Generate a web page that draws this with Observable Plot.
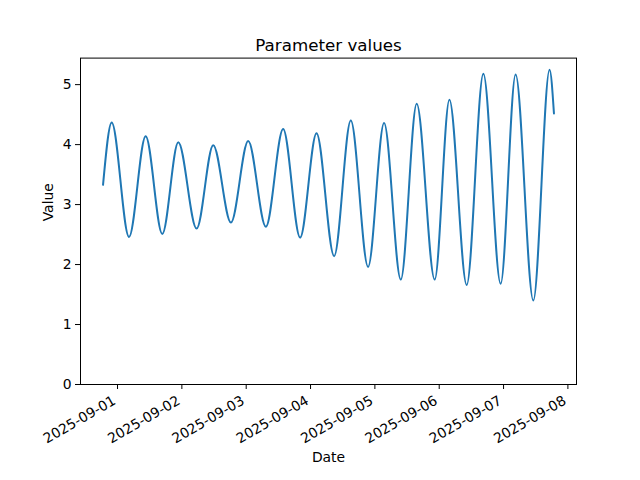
<!DOCTYPE html>
<html>
<head>
<meta charset="utf-8">
<script src="https://cdn.jsdelivr.net/npm/d3@7"></script>
<script src="https://cdn.jsdelivr.net/npm/@observablehq/plot@0.6"></script>
<style>
  html, body { margin: 0; padding: 0; background: #fff; }
</style>
</head>
<body>
<div id="chart"></div>
<script>
const chartTitle = "Parameter values";
const xLabel = "Date";
const yLabel = "Value";

const times = [
  "2025-08-31T18:36Z", "2025-08-31T21:50Z",
  "2025-09-01T04:17Z", "2025-09-01T10:30Z", "2025-09-01T16:42Z", "2025-09-01T22:40Z",
  "2025-09-02T05:30Z", "2025-09-02T11:42Z", "2025-09-02T18:18Z",
  "2025-09-03T00:45Z", "2025-09-03T07:20Z", "2025-09-03T13:47Z", "2025-09-03T20:07Z",
  "2025-09-04T02:14Z", "2025-09-04T08:48Z", "2025-09-04T15:01Z", "2025-09-04T21:28Z",
  "2025-09-05T03:26Z", "2025-09-05T09:40Z", "2025-09-05T15:36Z", "2025-09-05T22:19Z",
  "2025-09-06T03:48Z", "2025-09-06T10:15Z", "2025-09-06T16:28Z", "2025-09-06T22:55Z",
  "2025-09-07T04:30Z", "2025-09-07T11:06Z", "2025-09-07T17:10Z", "2025-09-07T18:48Z"
];
const values = [
  3.33, 4.37,
  2.46, 4.14, 2.51, 4.04,
  2.60, 3.99, 2.70,
  4.06, 2.63, 4.26, 2.45,
  4.19, 2.14, 4.40, 1.96,
  4.36, 1.75, 4.68, 1.75,
  4.75, 1.66, 5.18, 1.68,
  5.17, 1.40, 5.25, 4.52
];
const tickDates = ["2025-09-01", "2025-09-02", "2025-09-03", "2025-09-04",
                   "2025-09-05", "2025-09-06", "2025-09-07", "2025-09-08"];
const yTicks = [0, 1, 2, 3, 4, 5];

const data = times.map((t, i) => ({date: new Date(t), value: values[i]}));
const [t0, t1] = d3.extent(data, d => d.date);
const pad = (t1 - t0) * 0.05;
const [vmin, vmax] = d3.extent(values);
const yTop = vmax + (vmax - vmin) * 0.05;
const xTickValues = tickDates.map(d => new Date(d + "T00:00Z"));

const plot = Plot.plot({
  width: 640,
  height: 480,
  marginLeft: 80,
  marginRight: 64,
  marginTop: 57.6,
  marginBottom: 96,
  style: {fontFamily: "DejaVu Sans", fontSize: "13.9px", color: "#000", background: "#fff"},
  x: {type: "utc", domain: [new Date(+t0 - pad), new Date(+t1 + pad)]},
  y: {domain: [0, yTop]},
  marks: [
    Plot.frame({stroke: "#000", strokeWidth: 1}),
    Plot.axisX({
      ticks: xTickValues,
      tickFormat: () => "",
      tickSize: 5,
      label: null
    }),
    Plot.axisX({
      ticks: xTickValues,
      tickFormat: d3.utcFormat("%Y-%m-%d"),
      tickRotate: -30,
      tickSize: 0,
      tickPadding: 15,
      dx: -3,
      label: null,
      fontSize: 13.9
    }),
    Plot.axisY({
      ticks: yTicks,
      tickFormat: d3.format("d"),
      tickSize: 5,
      tickPadding: 4,
      label: null,
      fontSize: 13.9
    }),
    Plot.line(data, {x: "date", y: "value", stroke: "#1f77b4", strokeWidth: 2, curve: "monotone-x"}),
    Plot.text([chartTitle], {frameAnchor: "top", lineAnchor: "bottom", dy: -7, fontSize: 16.7}),
    Plot.text([xLabel], {frameAnchor: "bottom", lineAnchor: "middle", dy: 73, fontSize: 13.9}),
    Plot.text([yLabel], {frameAnchor: "left", rotate: -90, dx: -32, fontSize: 13.9})
  ]
});
document.getElementById("chart").appendChild(plot);
</script>
</body>
</html>
